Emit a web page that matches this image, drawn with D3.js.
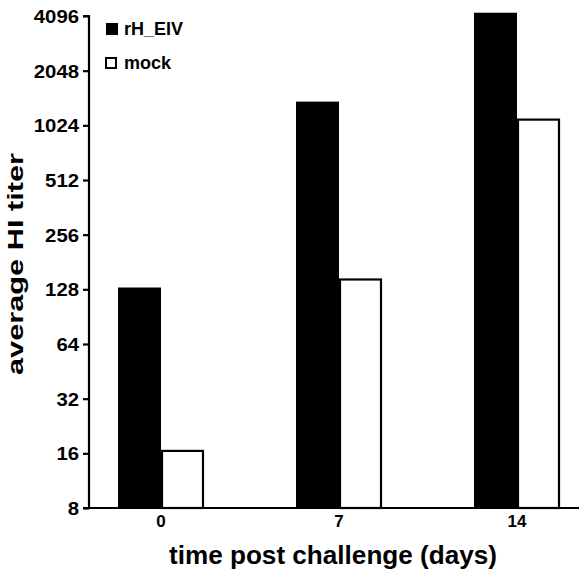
<!DOCTYPE html>
<html>
<head>
<meta charset="utf-8">
<script src="https://cdn.jsdelivr.net/npm/d3@7"></script>
<style>
html,body{margin:0;padding:0;background:#fff;}
text{font-family:"Liberation Sans",Arial,sans-serif;font-weight:bold;fill:#000;}
</style>
</head>
<body>
<svg id="chart" width="579" height="572"></svg>
<script>
const categories = ["0", "7", "14"];
const seriesNames = ["rH_EIV", "mock"];
const rhEIV = [131, 1383, 4270];
const mock = [16.5, 145, 1101];
const yTicks = [8, 16, 32, 64, 128, 256, 512, 1024, 2048, 4096];
const xTitle = "time post challenge (days)";
const yTitle = "average HI titer";

const svg = d3.select("#chart");
const mLeft = 89, mRight = 579, mTop = 16, mBottom = 508;

const y = d3.scaleLog().base(2).domain([8, 4096]).range([mBottom, mTop]);
const x0 = d3.scaleBand().domain(categories).range([72, 606]).padding(0);
const groupW = 86;
const x1 = d3.scaleBand().domain(seriesNames).range([0, groupW]).padding(0);
const colors = {"rH_EIV": "#000", "mock": "#fff"};

const data = categories.map((c, i) => ({cat: c, vals: [
  {s: "rH_EIV", v: rhEIV[i]}, {s: "mock", v: mock[i]}]}));

const g = svg.append("g");
data.forEach(d => {
  d.vals.forEach(b => {
    const bx = x0(d.cat) + (x0.bandwidth() - groupW) / 2 + x1(b.s);
    g.append("rect")
      .attr("x", bx + (b.s === "mock" ? 1 : 0))
      .attr("y", y(b.v))
      .attr("width", x1.bandwidth() - (b.s === "mock" ? 2 : 0))
      .attr("height", mBottom - y(b.v))
      .attr("fill", colors[b.s])
      .attr("stroke", "#000")
      .attr("stroke-width", b.s === "mock" ? 2.2 : 0);
  });
});

// y axis
const yAxis = d3.axisLeft(y).tickValues(yTicks).tickFormat(d3.format("d")).tickSize(6).tickPadding(4);
const ya = svg.append("g").attr("transform", `translate(${mLeft},0)`).call(yAxis);
ya.select(".domain").attr("stroke-width", 2.2).attr("d", `M-6,${mTop}H0V${mBottom}H-6`);
ya.selectAll(".tick line").attr("stroke-width", 2.2);
ya.selectAll(".tick text")
  .style("font-size", "18px").style("font-family", "Liberation Sans, Arial, sans-serif").style("font-weight", "bold")
  .attr("dy", "0.36em")
  .attr("textLength", d => String(d).length * 11.3).attr("lengthAdjust", "spacingAndGlyphs");

// x axis
svg.append("line").attr("x1", mLeft).attr("x2", mRight).attr("y1", mBottom).attr("y2", mBottom)
  .attr("stroke", "#000").attr("stroke-width", 2.2);
svg.append("g").selectAll("text").data(categories).join("text")
  .attr("x", d => x0(d) + x0.bandwidth() / 2)
  .attr("y", 527)
  .attr("text-anchor", "middle")
  .style("font-size", "17px")
  .text(d => d);

// titles
svg.append("text").attr("x", 333).attr("y", 564).attr("text-anchor", "middle")
  .style("font-size", "25px").attr("textLength", 328).attr("lengthAdjust", "spacingAndGlyphs").text(xTitle);
svg.append("text").attr("transform", "translate(23,264) rotate(-90)").attr("text-anchor", "middle")
  .style("font-size", "22px").attr("textLength", 222).attr("lengthAdjust", "spacingAndGlyphs").text(yTitle);

// legend
const leg = svg.append("g");
seriesNames.forEach((s, i) => {
  const ly = 23 + i * 34;
  leg.append("rect").attr("x", 106).attr("y", ly + (i ? 1 : 0)).attr("width", i ? 10 : 12).attr("height", i ? 10 : 12)
    .attr("fill", colors[s]).attr("stroke", "#000").attr("stroke-width", i ? 2 : 0);
  leg.append("text").attr("x", 124).attr("y", ly + 12).style("font-size", "18px").text(s);
});
</script>
</body>
</html>
